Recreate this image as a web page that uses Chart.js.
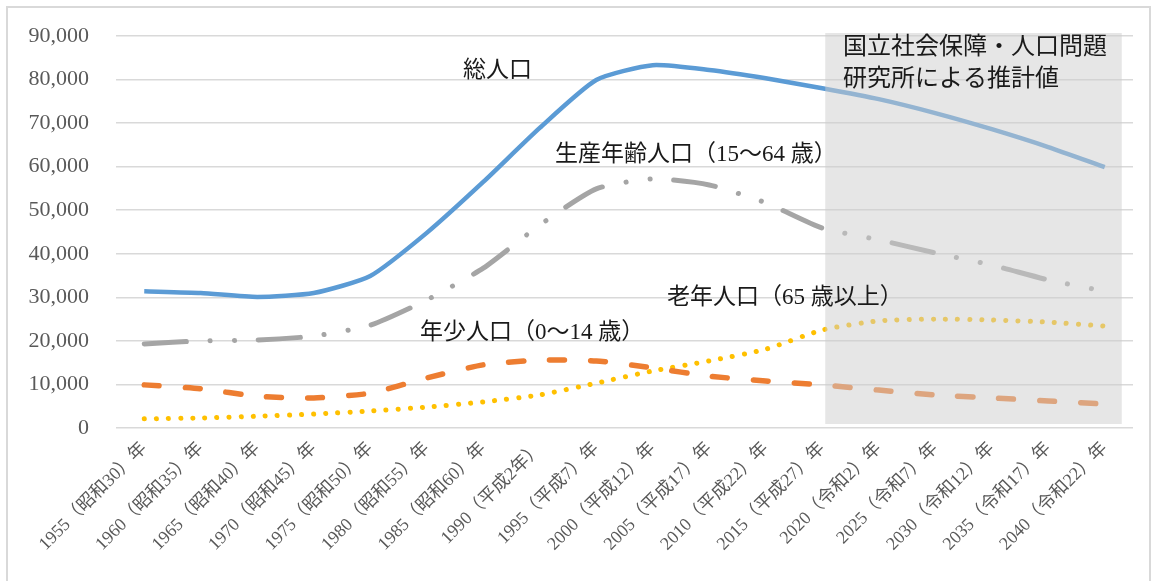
<!DOCTYPE html>
<html>
<head>
<meta charset="utf-8">
<script src="https://cdn.jsdelivr.net/npm/chart.js@4"></script>
<style>
  html, body { margin: 0; padding: 0; background: #fff; }
  #wrap { position: absolute; left: 0; top: 0; width: 1157px; height: 581px; }
</style>
</head>
<body>
<div id="wrap"><canvas id="popChart" width="1157" height="581"></canvas></div>
<script>
// 年次
const years = [
    '1955（昭和30）年', '1960（昭和35）年', '1965（昭和40）年', '1970（昭和45）年',
    '1975（昭和50）年', '1980（昭和55）年', '1985（昭和60）年', '1990（平成2年）',
    '1995（平成7）年', '2000（平成12）年', '2005（平成17）年', '2010（平成22）年',
    '2015（平成27）年', '2020（令和2）年', '2025（令和7）年', '2030（令和12）年',
    '2035（令和17）年', '2040（令和22）年'
];

const totalPop = [31400, 31000, 30100, 31000, 34900, 44800, 56500, 68900, 79900,
    83300, 82200, 80300, 78000, 75500, 72300, 68600, 64500, 59900];
const workingPop = [19300, 20000, 20200, 21100, 23600, 29400, 36700, 46600, 54900,
    57200, 55800, 51700, 45900, 43200, 40200, 37400, 34000, 31400];
const youngPop = [9900, 9000, 7300, 6900, 8000, 11500, 14500, 15600, 15400,
    13800, 11900, 10800, 9900, 8700, 7600, 6900, 6200, 5500];
const elderlyPop = [2100, 2300, 2700, 3200, 3900, 4800, 6000, 7600, 10300,
    13100, 15400, 18100, 22500, 24600, 25000, 24800, 24300, 23400];

const yTicks = [0, 10000, 20000, 30000, 40000, 50000, 60000, 70000, 80000, 90000];

const FONT = '"Liberation Serif", "Noto Sans CJK JP", serif';

// frame, projection shading and text labels
const decorations = {
    id: 'decorations',
    beforeDraw(chart) {
        const c = chart.ctx;
        c.save();
        c.strokeStyle = '#d9d9d9';
        c.lineWidth = 2;
        c.strokeRect(7, 7, 1143, 590);
        c.restore();
    },
    afterDatasetsDraw(chart) {
        const c = chart.ctx;
        const x = chart.scales.x;
        const y = chart.scales.y;
        const left = x.getPixelForValue(12) + 3;
        const right = x.getPixelForValue(17) + 17;
        const top = y.getPixelForValue(90000) - 3;
        const bottom = y.getPixelForValue(0) - 4;
        c.save();
        c.fillStyle = 'rgba(205, 205, 205, 0.5)';
        c.fillRect(left, top, right - left, bottom - top);

        c.fillStyle = '#1a1a1a';
        c.font = '23px ' + FONT;
        c.textBaseline = 'middle';
        c.textAlign = 'left';
        c.fillText('総人口', 463, 71);
        c.fillText('生産年齢人口（15～64 歳）', 555, 155);
        c.fillText('老年人口（65 歳以上）', 667, 298);
        c.fillText('年少人口（0～14 歳）', 420, 333);
        c.font = '24px ' + FONT;
        c.fillText('国立社会保障・人口問題', 843, 48);
        c.fillText('研究所による推計値', 843, 80);
        c.restore();
    }
};

const ctx = document.getElementById('popChart').getContext('2d');
new Chart(ctx, {
    type: 'line',
    data: {
        labels: years,
        datasets: [
            {
                label: '総人口',
                data: totalPop,
                borderColor: '#5b9bd5',
                borderWidth: 4.5,
                tension: 0.2,
                pointRadius: 0
            },
            {
                label: '生産年齢人口（15～64歳）',
                data: workingPop,
                borderColor: '#a5a5a5',
                borderWidth: 5,
                borderDash: [42, 24, 0.1, 24, 0.1, 24],
                borderCapStyle: 'round',
                tension: 0.2,
                pointRadius: 0
            },
            {
                label: '年少人口（0～14歳）',
                data: youngPop,
                borderColor: '#ed7d31',
                borderWidth: 5.5,
                borderDash: [15, 26],
                borderCapStyle: 'round',
                tension: 0.2,
                pointRadius: 0
            },
            {
                label: '老年人口（65歳以上）',
                data: elderlyPop,
                borderColor: '#ffc000',
                borderWidth: 5,
                borderDash: [0.1, 12],
                borderCapStyle: 'round',
                tension: 0.2,
                pointRadius: 0
            }
        ]
    },
    options: {
        responsive: false,
        animation: false,
        layout: { padding: { top: 36, right: 24, left: 0, bottom: 0 } },
        plugins: {
            legend: { display: false },
            tooltip: { enabled: false }
        },
        scales: {
            x: {
                offset: true,
                grid: { display: false },
                border: { display: false },
                ticks: {
                    color: '#595959',
                    font: { family: FONT, size: 18 },
                    minRotation: 45,
                    maxRotation: 45,
                    autoSkip: false,
                    padding: 2
                },
                afterFit(scale) {
                    scale.height = 153;
                    scale.paddingLeft = 0;
                    scale.paddingRight = 0;
                }
            },
            y: {
                min: 0,
                max: 90000,
                afterBuildTicks(scale) { scale.ticks = yTicks.map(v => ({ value: v })); },
                grid: { color: '#d9d9d9', lineWidth: 1.5, drawTicks: false },
                border: { display: false },
                ticks: {
                    color: '#595959',
                    font: { family: FONT, size: 22 },
                    padding: 27,
                    callback: v => v.toLocaleString('en-US')
                },
                afterFit(scale) {
                    scale.width = 116;
                    scale.paddingTop = 0;
                    scale.paddingBottom = 0;
                }
            }
        }
    },
    plugins: [decorations]
});
</script>
</body>
</html>
